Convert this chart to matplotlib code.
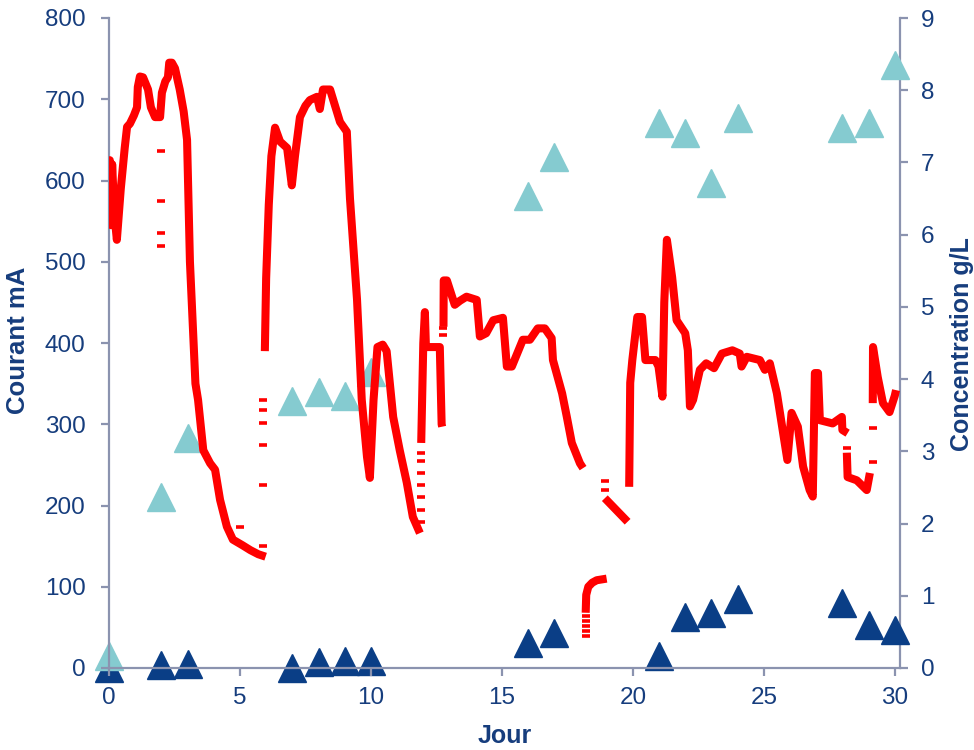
import numpy as np
import matplotlib
matplotlib.use("Agg")
import matplotlib.pyplot as plt

nan = np.nan

# Current (mA) continuous record, segments separated by NaN
jour_courant = [
    0.0, 0.03, 0.08, 0.12, 0.2, 0.3, 0.45, 0.6, 0.69, 0.8, 0.95, 1.07, 1.1, 1.18, 1.3, 1.49, 1.6, 1.76,
    1.95, 2.02, 2.15, 2.25, 2.3, 2.4, 2.52, 2.7, 2.85, 2.98, 3.09, 3.2, 3.3, 3.4, 3.6, 3.86, 4.05, 4.24,
    4.5, 4.73, 5.1, 5.4, 5.7, 5.98, nan,
    5.95, 6.0, 6.1, 6.2, 6.34, 6.53, 6.8, 6.98, 7.1, 7.29, 7.5, 7.67, 7.94, 8.05, 8.17, 8.44, 8.82, 9.08,
    9.2, 9.47, 9.65, 9.85, 9.96, 10.1, 10.25, 10.45, 10.6, 10.85, 11.1, 11.37, 11.6, 11.87, nan,
    11.92, 12.0, 12.06, 12.1, 12.63, 12.7, 12.72, nan,
    12.77, 12.78, 12.9, 13.1, 13.2, 13.4, 13.65, 14.04, 14.16, 14.4, 14.67, 15.04, 15.19, 15.38, 15.8,
    16.07, 16.37, 16.64, 16.9, 16.95, 17.3, 17.48, 17.67, 17.98, 18.1, nan,
    18.2, 18.22, 18.3, 18.45, 18.62, 19.0, nan,
    18.93, 19.2, 19.5, 19.8, nan,
    19.86, 19.9, 19.98, 20.17, 20.35, 20.48, 20.86, 20.98, 21.13, 21.2, 21.3, 21.5, 21.67, 22.0, 22.1,
    22.18, 22.3, 22.56, 22.8, 23.1, 23.4, 23.8, 24.08, 24.15, 24.35, 24.85, 25.04, 25.23, 25.5, 25.7,
    25.9, 26.06, 26.3, 26.5, 26.75, 26.87, 26.95, 27.07, 27.14, 27.63, 27.98, 28.0, 28.2, nan,
    28.17, 28.2, 28.55, 28.93, 29.05, nan,
    29.16, 29.17, 29.35, 29.55, 29.8, 30.0, 30.05,
]
courant_mA = [
    590, 625, 545, 620, 560, 527, 590, 640, 666, 670, 680, 690, 715, 728, 727, 712, 690, 678,
    678, 708, 722, 727, 745, 745, 738, 712, 685, 650, 500, 420, 350, 330, 268, 252, 244, 207,
    174, 158, 151, 145, 140, 137, nan,
    390, 480, 570, 630, 665, 648, 640, 594, 630, 678, 692, 699, 703, 688, 712, 712, 672, 660,
    578, 453, 330, 260, 234, 330, 395, 398, 390, 309, 268, 228, 186, 166, nan,
    277, 400, 438, 395, 395, 300, 297, nan,
    420, 477, 477, 457, 447, 452, 457, 453, 408, 412, 428, 431, 371, 371, 404,
    404, 418, 418, 406, 379, 338, 309, 277, 252, 246, nan,
    68, 90, 100, 105, 108, 110, nan,
    209, 200, 190, 180, nan,
    223, 351, 379, 432, 432, 379, 379, 371, 334, 450, 527, 481, 428, 412, 391,
    322, 330, 367, 375, 369, 387, 391, 387, 371, 383, 379, 367, 375, 338, 297,
    256, 314, 297, 248, 219, 211, 363, 363, 305, 301, 309, 293, 289, nan,
    265, 235, 231, 219, 240, nan,
    326, 395, 358, 326, 315, 335, 342,
]

# Isolated current readings (sparse points)
jour_points = [0.02, 0.02, 0.02, 0.02, 2.0, 2.0, 2.0, 2.0, 5.0, 5.88, 5.88, 5.88, 5.88, 5.88, 5.88,
               11.9, 11.9, 11.9, 11.9, 11.9, 11.9, 11.9, 12.75, 12.75,
               18.2, 18.2, 18.2, 18.2, 18.2, 18.93, 18.93, 28.17, 29.16, 29.16]
courant_points = [560, 570, 580, 550, 636, 575, 535, 520, 174, 330, 318, 302, 274, 225, 150,
                  180, 195, 210, 225, 240, 255, 265, 410, 418,
                  40, 46, 52, 58, 64, 219, 230, 271, 253, 295]

# Concentrations (g/L)
jour_conc = [0, 2, 3, 7, 8, 9, 10, 16, 17, 21, 22, 23, 24, 28, 29, 30]
conc_claire = [0.17, 2.37, 3.19, 3.70, 3.82, 3.77, 4.10, 6.54, 7.08, 7.55, 7.41, 6.72, 7.62, 7.48, 7.55, 8.35]
conc_foncee = [0.0, 0.04, 0.06, 0.0, 0.08, 0.10, 0.10, 0.35, 0.48, 0.16, 0.71, 0.76, 0.96, 0.90, 0.59, 0.53]

x_ticks = [0, 5, 10, 15, 20, 25, 30]
y_ticks = [0, 100, 200, 300, 400, 500, 600, 700, 800]
y2_ticks = [0, 1, 2, 3, 4, 5, 6, 7, 8, 9]

plt.rcParams['font.family'] = ['Liberation Sans', 'DejaVu Sans']

TXT = '#163D7D'
SPINE = '#8B93AF'
TEAL = '#85CBD0'
DARK = '#0A3E86'

fig = plt.figure(figsize=(9.74, 7.5), dpi=100)
ax = fig.add_axes([109/974, 1-668/750, (900-109)/974, (668-18)/750])
ax2 = ax.twinx()

ax2.plot(jour_conc, conc_foncee, ls='none', marker='^', ms=20, color=DARK, mec=DARK, clip_on=False, zorder=3)
ax2.plot(jour_conc, conc_claire, ls='none', marker='^', ms=20, color=TEAL, mec=TEAL, clip_on=False, zorder=4)

ax.plot(jour_courant, courant_mA, color='#FF0000', lw=5.8, solid_joinstyle='round', solid_capstyle='butt', zorder=5)
ax.plot(jour_points, courant_points, ls='none', marker='_', ms=6, mew=2.6, color='#FF0000', zorder=5)

ax.set_zorder(ax2.get_zorder() + 1)
ax.patch.set_visible(False)

ax.set_xlim(0, 30.2)
ax.set_ylim(0, 800)
ax2.set_ylim(0, 9)
ax.set_xticks(x_ticks)
ax.set_yticks(y_ticks)
ax2.set_yticks(y2_ticks)

for a in (ax, ax2):
    for s in a.spines.values():
        s.set_visible(False)
ax.spines['left'].set_visible(True)
ax.spines['bottom'].set_visible(True)
ax2.spines['right'].set_visible(True)
for s in (ax.spines['left'], ax.spines['bottom'], ax2.spines['right']):
    s.set_color(SPINE)
    s.set_linewidth(1.6)

ax.tick_params(axis='y', direction='out', length=6, width=1.6, color=SPINE, labelcolor=TXT, labelsize=17.5, pad=11)
ax.tick_params(axis='x', direction='out', length=6, width=1.6, color=SPINE, labelcolor=TXT, labelsize=17.5, pad=8)
ax2.tick_params(axis='y', direction='out', length=6, width=1.6, color=SPINE, labelcolor=TXT, labelsize=17.5, pad=9)

fig.text(18/974, 1-340/750, 'Courant mA', rotation=90, ha='center', va='center', fontsize=18.5, fontweight='bold', color=TXT)
fig.text(962/974, 1-344/750, 'Concentration g/L', rotation=90, ha='center', va='center', fontsize=18, fontweight='bold', color=TXT)
fig.text(505/974, 1-736/750, 'Jour', ha='center', va='center', fontsize=18, fontweight='bold', color=TXT)

fig.savefig('out.png', dpi=100)
